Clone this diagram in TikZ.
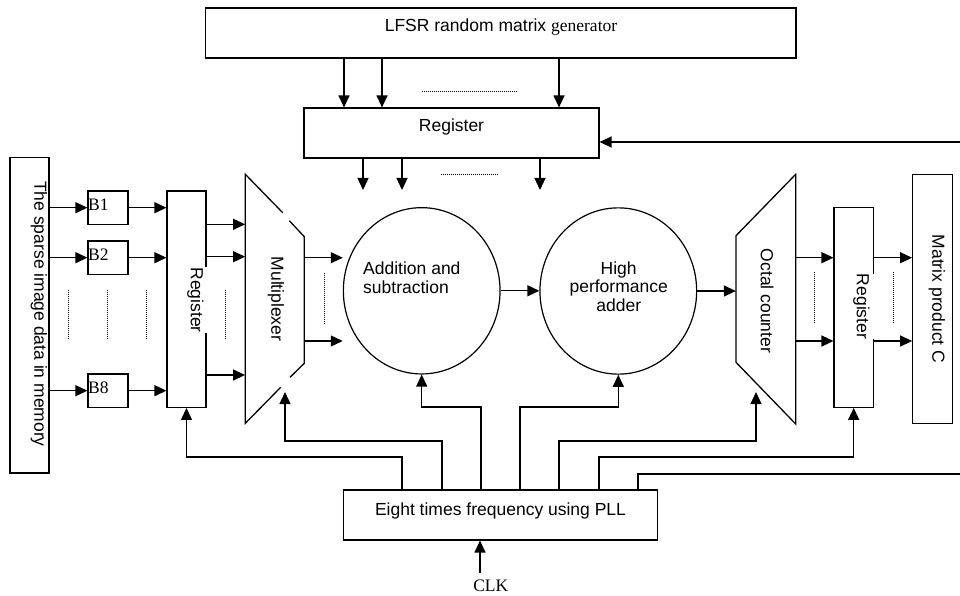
\documentclass[tikz,border=0pt]{standalone}
\usepackage{fontspec}
\setmainfont{Liberation Serif}
\newfontfamily\arialf{Liberation Sans}
\usetikzlibrary{arrows.meta,shapes.geometric}
\begin{document}
\begin{tikzpicture}[x=1pt,y=-1pt,
  blk/.style={draw,line width=1.2pt,inner sep=0pt,rectangle},
  ghost/.style={inner sep=0pt,rectangle},
  circ/.style={draw,line width=1.2pt,ellipse,inner sep=0pt,minimum width=156.7pt,minimum height=166.3pt},
  arr/.style={line width=1.3pt,-{Triangle[length=12pt,width=11pt]}},
  wire/.style={line width=1.3pt},
  dotl/.style={line width=0.7pt,dash pattern=on 0.7pt off 1.3pt},
  sf/.style={font=\arialf\fontsize{17.5}{19.5}\selectfont,inner sep=0pt},
  rm/.style={font=\rmfamily\fontsize{17.5}{19.5}\selectfont,inner sep=0pt},
  vt/.style={sf,rotate=-90},
]
\useasboundingbox (0,0) rectangle (960,596);

% ---------- blocks ----------
\node[blk,minimum width=590.3pt,minimum height=50pt] (lfsr) at (500.8,33) {};
\node[sf,anchor=base] (lfsrt) at (501,31.7) {LFSR random matrix {\rmfamily generator}};

\node[blk,minimum width=295pt,minimum height=50pt] (reg1) at (451.5,133) {};
\node[sf,anchor=base] (reg1t) at (451.5,131.7) {Register};

\node[blk,minimum width=39pt,minimum height=315.3pt] (mem) at (29.5,315.3) {};
\node[vt] (memt) at (39,314) {The sparse image data in memory};

\node[blk,minimum width=40pt,minimum height=33.3pt] (b1) at (108,207.7) {};
\node[blk,minimum width=40pt,minimum height=33.3pt] (b2) at (108,257.7) {};
\node[blk,minimum width=40pt,minimum height=33.3pt] (b8) at (108,390.7) {};
\node[rm,anchor=base west] (b1t) at ([xshift=0.5pt,yshift=-19.7pt]b1.north west) {B1};
\node[rm,anchor=base west] (b2t) at ([xshift=0.5pt,yshift=-19.7pt]b2.north west) {B2};
\node[rm,anchor=base west] (b8t) at ([xshift=0.5pt,yshift=-19.7pt]b8.north west) {B8};

\node[blk,minimum width=39pt,minimum height=216.3pt] (reg2) at (186.5,299.2) {};
\node[vt,fill=white,inner ysep=3.5pt] (reg2t) at (195.5,300) {Register};

% multiplexer (trapezoid with two small gaps)
\node[ghost,minimum width=59pt,minimum height=249pt] (mux) at (274.8,298.8) {};
\draw[wire] (282.7,212.7) -- (245.3,174.3) -- (245.3,423.3) -- (280.7,387.3);
\draw[wire] (289.3,220.7) -- (304.3,236.7) -- (304.3,363.3) -- (290,377.3);
\node[vt] (muxt) at (276,299) {Multiplexer};

\node[circ] (add) at (421.7,290.8) {};
\node[sf,anchor=base west] (addt1) at (363,274.3) {Addition and};
\node[sf,anchor=base west] (addt2) at (363,293) {subtraction};

\node[circ] (hpa) at (618.3,291) {};
\node[sf,anchor=base] (hpat1) at (618.7,274.3) {High};
\node[sf,anchor=base] (hpat2) at (618.7,292.7) {performance};
\node[sf,anchor=base] (hpat3) at (618.7,311.7) {adder};

% octal counter
\node[ghost,minimum width=59.7pt,minimum height=249.7pt] (oct) at (765.9,299.2) {};
\draw[wire] (795.7,174.3) -- (736,235.7) -- (736,362.3) -- (795.7,424) -- cycle;
\node[vt] (octt) at (767,301) {Octal counter};

\node[blk,minimum width=39.3pt,minimum height=199.6pt] (reg3) at (853.7,307.5) {};
\node[vt,fill=white,inner ysep=5pt] (reg3t) at (861.5,306.5) {Register};

\node[blk,minimum width=39.6pt,minimum height=249.2pt] (mat) at (932.5,298.9) {};
\node[vt] (matt) at (937,299) {Matrix product C};

\node[blk,minimum width=314.4pt,minimum height=50pt] (pll) at (500.5,515) {};
\node[sf,anchor=base] (pllt) at (500.5,515) {Eight times frequency using PLL};

\node[rm,anchor=base] (clk) at (490.8,591.7) {CLK};

% ---------- free ends ----------
\coordinate (r1) at (363,190);
\coordinate (r2) at (402,190);
\coordinate (r3) at (540,190);
\coordinate (muxin) at (285,392);
\coordinate (octin) at (756,392);
\coordinate (fbtop) at (960,142);
\coordinate (fbbot) at (960,474);
\coordinate (clkin) at (480,572.7);

% ---------- connectors ----------
\draw[arr] (344,0 |- lfsr.south) -- (344,0 |- reg1.north);
\draw[arr] (382,0 |- lfsr.south) -- (382,0 |- reg1.north);
\draw[arr] (559,0 |- lfsr.south) -- (559,0 |- reg1.north);

\draw[arr] (r1 |- reg1.south) -- (r1);
\draw[arr] (r2 |- reg1.south) -- (r2);
\draw[arr] (r3 |- reg1.south) -- (r3);

\draw[arr] (fbtop) -- (fbtop -| reg1.east);

\draw[arr] (mem.east |- b1.west) -- (b1.west);
\draw[arr] (mem.east |- b2.west) -- (b2.west);
\draw[arr] (mem.east |- b8.west) -- (b8.west);
\draw[arr] (b1.east) -- (b1.east -| reg2.west);
\draw[arr] (b2.east) -- (b2.east -| reg2.west);
\draw[arr] (b8.east) -- (b8.east -| reg2.west);

\draw[arr] (reg2.east |- 0,224.3) -- (mux.west |- 0,224.3);
\draw[arr] (reg2.east |- 0,256.7) -- (mux.west |- 0,256.7);
\draw[arr] (reg2.east |- 0,375) -- (mux.west |- 0,375);

\draw[arr] (mux.east |- 0,257.7) -- (add.west |- 0,257.7);
\draw[arr] (mux.east |- 0,341) -- (add.west |- 0,341);

\draw[arr] (add.east) -- (add.east -| hpa.west);
\draw[arr] (hpa.east) -- (hpa.east -| oct.west);

\draw[arr] (oct.east |- 0,257.7) -- (reg3.west |- 0,257.7);
\draw[arr] (oct.east |- 0,341) -- (reg3.west |- 0,341);
\draw[arr] (reg3.east |- 0,257.7) -- (mat.west |- 0,257.7);
\draw[arr] (reg3.east |- 0,341) -- (mat.west |- 0,341);

\draw[arr] (402,0 |- pll.north) -- (402,457) -| (reg2.south);
\draw[arr] (442,0 |- pll.north) -- (442,441) -| (muxin);
\draw[arr] (481,0 |- pll.north) -- (481,407) -| (add.south);
\draw[arr] (520,0 |- pll.north) -- (520,407) -| (hpa.south);
\draw[arr] (559,0 |- pll.north) -- (559,441) -| (octin);
\draw[arr] (599,0 |- pll.north) -- (599,457) -| (reg3.south);
\draw[wire] (638,0 |- pll.north) -- (638,474) -- (fbbot);

\draw[arr] (clkin) -- (clkin |- pll.south);

% ---------- dotted ellipses ----------
\draw[dotl] (422,91) -- (518,91);
\draw[dotl] (441,174) -- (498,174);
\draw[dotl] (68.3,290) -- (68.3,340);
\draw[dotl] (107.7,290) -- (107.7,340);
\draw[dotl] (146.7,290) -- (146.7,340);
\draw[dotl] (225.7,290) -- (225.7,340);
\draw[dotl] (324.3,273) -- (324.3,324);
\draw[dotl] (814.3,272) -- (814.3,324);
\draw[dotl] (893.3,272) -- (893.3,324);
\end{tikzpicture}
\end{document}
